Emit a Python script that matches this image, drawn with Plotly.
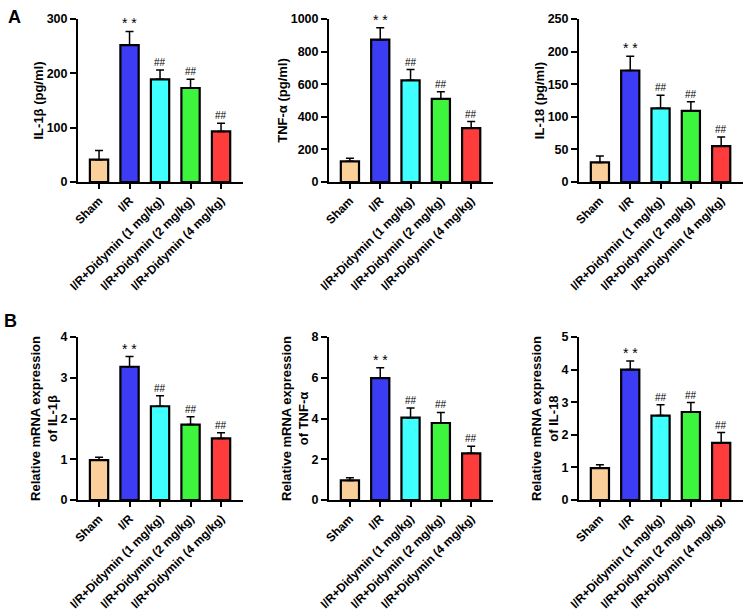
import plotly.graph_objects as go

groups = ["Sham", "I/R", "I/R+Didymin (1 mg/kg)", "I/R+Didymin (2 mg/kg)", "I/R+Didymin (4 mg/kg)"]
colors = ["#FBCF9A", "#3C3CF5", "#40FFFF", "#3CF53C", "#FF3C3C"]
marks = ["", "* *", "##", "##", "##"]

il1b_elisa = [41, 252, 189, 173, 93]
il1b_elisa_err = [17, 25, 17, 16, 15]
tnf_elisa = [127, 873, 624, 510, 331]
tnf_elisa_err = [18, 74, 66, 43, 40]
il18_elisa = [30, 171, 113, 109, 55]
il18_elisa_err = [10, 22, 20, 14, 14]

il1b_mrna = [0.98, 3.27, 2.30, 1.85, 1.51]
il1b_mrna_err = [0.07, 0.25, 0.26, 0.19, 0.14]
tnf_mrna = [0.96, 5.98, 4.04, 3.78, 2.29]
tnf_mrna_err = [0.13, 0.51, 0.47, 0.52, 0.35]
il18_mrna = [0.98, 4.00, 2.59, 2.70, 1.75]
il18_mrna_err = [0.10, 0.26, 0.33, 0.29, 0.32]

panels = [
    (il1b_elisa, il1b_elisa_err, "IL-1β (pg/ml)", [0, 300], 100),
    (tnf_elisa, tnf_elisa_err, "TNF-α (pg/ml)", [0, 1000], 200),
    (il18_elisa, il18_elisa_err, "IL-18 (pg/ml)", [0, 250], 50),
    (il1b_mrna, il1b_mrna_err, "Relative mRNA expression<br>of IL-1β", [0, 4], 1),
    (tnf_mrna, tnf_mrna_err, "Relative mRNA expression<br>of TNF-α", [0, 8], 2),
    (il18_mrna, il18_mrna_err, "Relative mRNA expression<br>of IL-18", [0, 5], 1),
]

W, H = 745, 611
xdoms = [(78 / W, 243 / W), (329 / W, 493 / W), (579 / W, 743 / W)]
ydoms = [(1 - 182 / H, 1 - 19 / H), (1 - 500 / H, 1 - 337 / H)]

FONT = "Arial, Liberation Sans, sans-serif"
fig = go.Figure()
annotations = []
layout = {}
for i, (vals, errs, title, rng, dt) in enumerate(panels):
    r, c = divmod(i, 3)
    n = i + 1
    xa = "x" if n == 1 else f"x{n}"
    ya = "y" if n == 1 else f"y{n}"
    xkey = "xaxis" if n == 1 else f"xaxis{n}"
    ykey = "yaxis" if n == 1 else f"yaxis{n}"
    fig.add_trace(go.Bar(
        x=list(range(5)), y=vals, xaxis=xa, yaxis=ya,
        width=0.6,
        marker=dict(color=colors, line=dict(color="black", width=2.2)),
        error_y=dict(type="data", array=errs, arrayminus=[0] * 5, symmetric=False,
                     color="black", thickness=1.5, width=4),
        showlegend=False, hoverinfo="skip",
    ))
    for k in range(5):
        if marks[k]:
            star = marks[k] == "* *"
            annotations.append(dict(
                x=k, y=vals[k] + errs[k], xref=xa, yref=ya, text=marks[k],
                showarrow=False, yanchor="bottom", yshift=-2 if star else 0,
                font=dict(family=FONT, size=14 if star else 10, color="black"),
            ))
    layout[xkey] = dict(
        domain=list(xdoms[c]), anchor=ya, range=[-0.69, 4.72], automargin=False,
        tickmode="array", tickvals=list(range(5)), ticktext=groups,
        tickangle=-45, ticks="outside", ticklen=5, tickwidth=2, tickcolor="black",
        showline=True, linecolor="black", linewidth=2, showgrid=False, zeroline=False,
        tickfont=dict(family=FONT, size=12, color="black", weight="bold"),
        fixedrange=True,
    )
    layout[ykey] = dict(
        domain=list(ydoms[r]), anchor=xa, range=rng, dtick=dt, tick0=0, automargin=False,
        ticks="outside", ticklen=6, tickwidth=2, tickcolor="black",
        showline=True, linecolor="black", linewidth=2, showgrid=False, zeroline=False,
        tickfont=dict(family=FONT, size=12.5, color="black", weight="bold"),
        title=dict(text=title, font=dict(family=FONT, size=13, color="black", weight="bold"),
                   standoff=0),
        fixedrange=True,
    )

annotations.append(dict(x=6 / W, y=1 - 5 / H, xref="paper", yref="paper", text="A",
                        showarrow=False, xanchor="left", yanchor="top",
                        font=dict(family=FONT, size=18, color="black", weight="bold")))
annotations.append(dict(x=2 / W, y=1 - 309 / H, xref="paper", yref="paper", text="B",
                        showarrow=False, xanchor="left", yanchor="top",
                        font=dict(family=FONT, size=18, color="black", weight="bold")))

fig.update_layout(
    width=W, height=H, margin=dict(l=0, r=0, t=0, b=0),
    paper_bgcolor="white", plot_bgcolor="white",
    annotations=annotations, **layout,
)
fig.write_html("out.html", config={"displayModeBar": False},
               post_script="document.body.style.margin='0';")
